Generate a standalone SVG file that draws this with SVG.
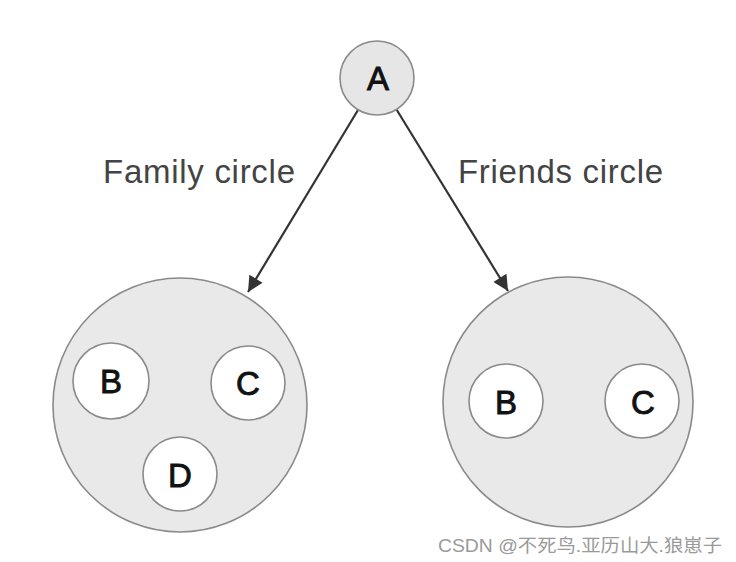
<svg xmlns="http://www.w3.org/2000/svg" width="736" height="562" viewBox="0 0 736 562">
<style>
.big{fill:#e9e9e9;stroke:#8a8a8a;stroke-width:1.6}
.small{fill:#ffffff;stroke:#8a8a8a;stroke-width:1.6}
.root{fill:#e6e6e6;stroke:#8a8a8a;stroke-width:1.6}
.lt{font-family:"Liberation Sans",Arial,sans-serif;font-size:33px;fill:#111;stroke:#111;stroke-width:0.9;text-anchor:middle}
.lbl{font-family:"Liberation Sans",Arial,sans-serif;font-size:33px;fill:#444}
.edge{stroke:#333;stroke-width:2.2;fill:none}
.wm{font-family:"Liberation Sans","Noto Sans CJK SC",sans-serif;font-size:18px;fill:#9a9a9a}
</style>
<defs>
<marker id="arr" viewBox="0 0 10 10" refX="10" refY="5" markerWidth="8" markerHeight="7" markerUnits="strokeWidth" orient="auto">
<path d="M0,0 L10,5 L0,10 z" fill="#333"/>
</marker>
</defs>
<rect width="736" height="562" fill="#ffffff"/>
<g id="edges">
<line class="edge" x1="358" y1="110" x2="248" y2="292" marker-end="url(#arr)"/>
<line class="edge" x1="396.5" y1="109.5" x2="508" y2="291" marker-end="url(#arr)"/>
</g>
<g id="node-A">
<circle class="root" cx="377" cy="78" r="37"/>
<text class="lt" x="378" y="90">A</text>
</g>
<g id="family-circle">
<circle class="big" cx="180" cy="405" r="127"/>
<text class="lbl" x="103" y="183" textLength="192" lengthAdjust="spacing">Family circle</text>
</g>
<g id="family-B">
<circle class="small" cx="111" cy="381" r="38"/>
<text class="lt" x="111" y="393">B</text>
</g>
<g id="family-C">
<circle class="small" cx="248" cy="383" r="37"/>
<text class="lt" x="248" y="395">C</text>
</g>
<g id="family-D">
<circle class="small" cx="180" cy="474" r="37"/>
<text class="lt" x="180" y="487">D</text>
</g>
<g id="friends-circle">
<circle class="big" cx="568" cy="402" r="125"/>
<text class="lbl" x="458" y="183" textLength="205" lengthAdjust="spacing">Friends circle</text>
</g>
<g id="friends-B">
<circle class="small" cx="506" cy="401" r="37"/>
<text class="lt" x="506" y="414">B</text>
</g>
<g id="friends-C">
<circle class="small" cx="642" cy="401" r="37"/>
<text class="lt" x="643" y="414">C</text>
</g>
<text class="wm" x="438" y="552" textLength="284" lengthAdjust="spacingAndGlyphs">CSDN @不死鸟.亚历山大.狼崽子</text>
</svg>
